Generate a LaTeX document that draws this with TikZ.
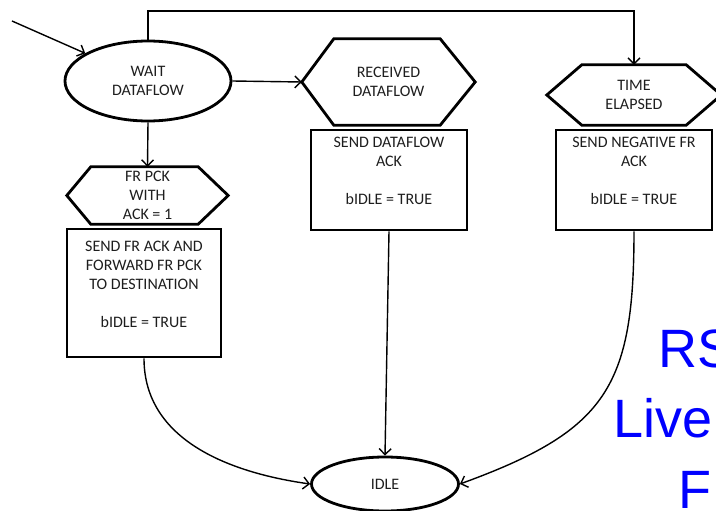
\documentclass[tikz,border=0pt]{standalone}
\usepackage{fontspec}
\setmainfont{Carlito}
\newfontfamily\bluefont{Liberation Sans}
\usetikzlibrary{arrows.meta,shapes.geometric}
\definecolor{txtgray}{RGB}{30,30,30}
\definecolor{ovblue}{RGB}{0,0,255}
\begin{document}
\begin{tikzpicture}[x=1pt,y=-1pt,
  every node/.style={font=\fontsize{16}{19}\selectfont, text=txtgray, inner sep=0pt},
  shapeline/.style={line width=2.8pt},
  boxnode/.style={draw, shapeline, rectangle},
  ellnode/.style={draw, shapeline, ellipse, align=center},
  hexframe/.style={align=center},
  txtnode/.style={align=center, anchor=north},
  arr/.style={line width=1.4pt, -{Straight Barb[length=6pt,width=12pt,line width=1.4pt]}},
  bigtxt/.style={anchor=base west, font=\bluefont\fontsize{54}{54}\selectfont, text=ovblue}]
\useasboundingbox (0,0) rectangle (716,511);
\clip (0,0) rectangle (716,511);

% ellipses
\node[ellnode, minimum width=166pt, minimum height=80pt] (wait) at (148,81) {WAIT\\DATAFLOW};
\node[ellnode, minimum width=147pt, minimum height=54pt] (idle) at (385,484) {IDLE};

% hexagons
\node[hexframe, minimum width=173pt, minimum height=86pt] (recv) at (388.5,82) {RECEIVED\\DATAFLOW};
\draw[shapeline] (recv.west) -- ([xshift=32pt]recv.north west) -- ([xshift=-35pt]recv.north east)
  -- (recv.east) -- ([xshift=-35pt]recv.south east) -- ([xshift=32pt]recv.south west) -- cycle;

\node[hexframe, minimum width=174pt, minimum height=60pt] (time) at (634,95) {TIME\\ELAPSED};
\draw[shapeline] (time.west) -- ([xshift=35pt]time.north west) -- ([xshift=-35pt]time.north east)
  -- (time.east) -- ([xshift=-35pt]time.south east) -- ([xshift=35pt]time.south west) -- cycle;

\node[hexframe, minimum width=161pt, minimum height=57pt] (frpck) at (147.5,195.5) {FR PCK\\WITH\\ACK = 1};
\draw[shapeline] (frpck.west) -- ([xshift=24pt]frpck.north west) -- ([xshift=-30pt]frpck.north east)
  -- (frpck.east) -- ([xshift=-30pt]frpck.south east) -- ([xshift=24pt]frpck.south west) -- cycle;

% boxes
\node[boxnode, minimum width=154pt, minimum height=128pt] (bfr) at (144,293) {};
\node[txtnode] (bfrt) at (144,241) {SEND FR ACK AND\\FORWARD FR PCK\\TO DESTINATION\\[19pt]bIDLE = TRUE};

\node[boxnode, minimum width=156pt, minimum height=100pt] (brecv) at (389,180) {};
\node[txtnode] (brecvt) at (389,137) {SEND DATAFLOW\\ACK\\[19pt]bIDLE = TRUE};

\node[boxnode, minimum width=156pt, minimum height=100pt] (btime) at (634,180) {};
\node[txtnode] (btimet) at (634,137) {SEND NEGATIVE FR\\ACK\\[19pt]bIDLE = TRUE};

% connectors
\coordinate (start) at (12,21);
\coordinate (topR) at (634,11);
\draw[arr] (start) -- (wait);
\draw[arr] (wait.north) |- (topR) -- (time.north);
\draw[arr] (wait.east) -- (recv.west);
\draw[arr] (wait.south) -- (frpck.north);
\draw[arr] (brecv.south) -- (idle.north);
\draw[arr] (bfr.south) to[out=-90,in=172] (idle.west);
\draw[arr] (btime.south) to[out=-90,in=20,looseness=1.3] (idle.east);

% overlay text
\node[bigtxt] (rs) at (658,367) {RS};
\node[bigtxt] (live) at (613,437) {Live};
\node[bigtxt] (f) at (678,508) {F};
\end{tikzpicture}
\end{document}
